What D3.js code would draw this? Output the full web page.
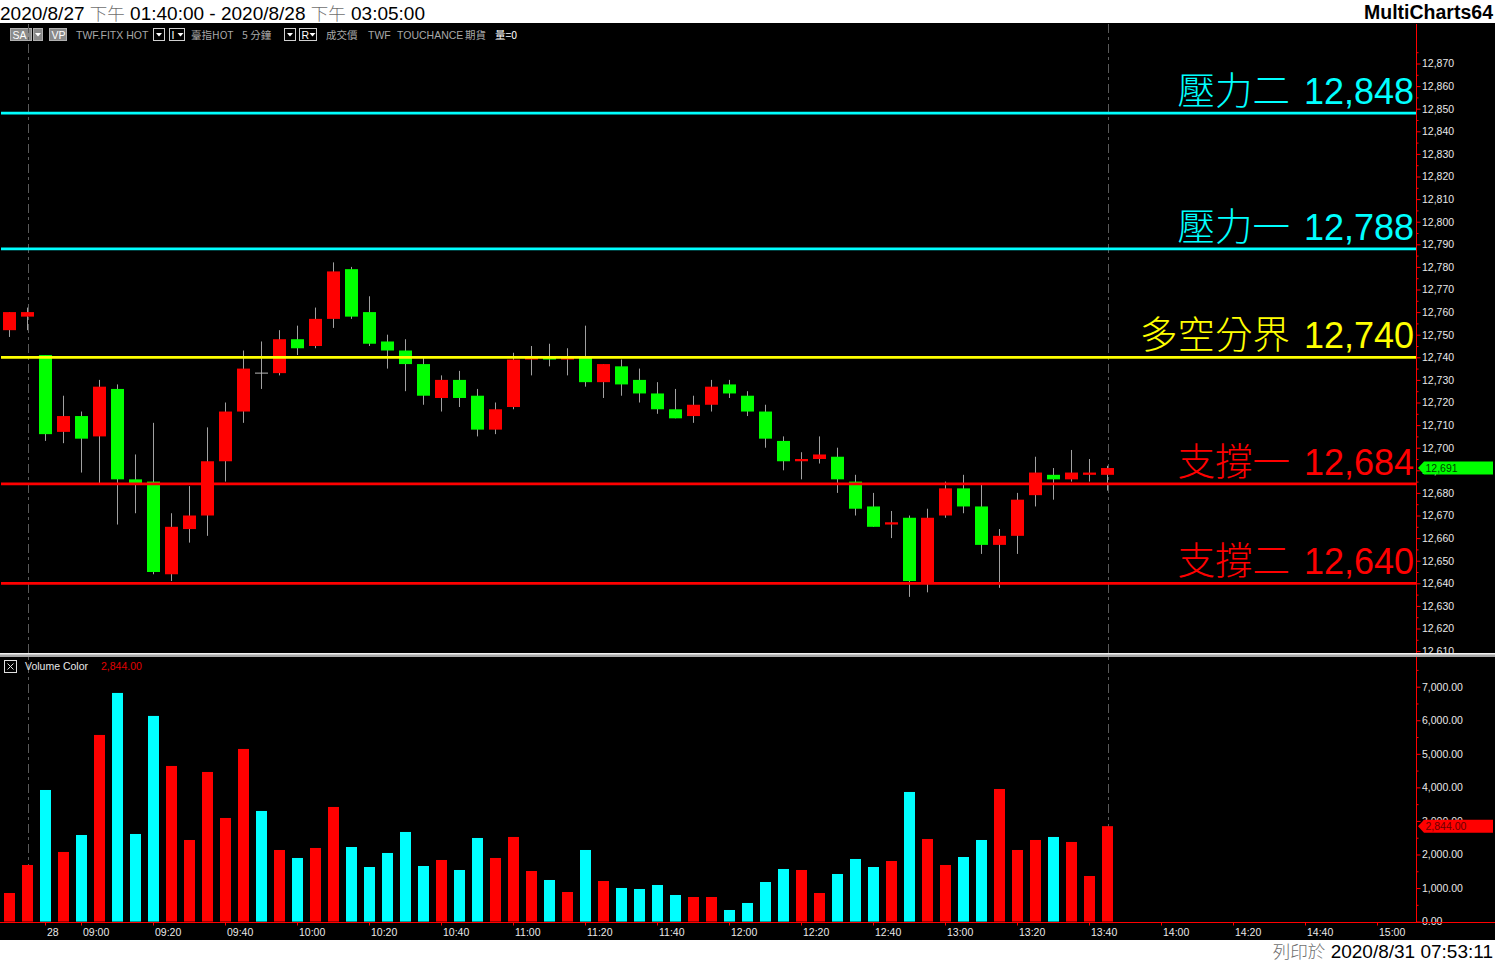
<!DOCTYPE html>
<html><head><meta charset="utf-8">
<script src="https://cdn.jsdelivr.net/npm/d3@7"></script>
<style>
html,body{margin:0;padding:0;background:#fff;overflow:hidden;}
svg{display:block;}
</style></head><body>
<svg id="chart" width="1495" height="962"></svg>
<script>
// ---------------- DATA ----------------
const prevDayTimes = ["13:40", "13:45"];          // 2020/8/27 last bars
const sessionFirst = "08:50", sessionLast = "15:05"; // 2020/8/28 slots shown

const open  = [12752,12758,12741,12707,12714,12705,12726,12686,12685,12644,12664,12670,12694,12716,12733,12733,12748,12745,12757,12779,12760,
               12747,12743,12737,12722,12730,12723,12708,12718,12739,12740,12739,12740,12729,12736,12730,12724,12717,12714,12719,12728,
               12723,12716,12703,12694,12695,12696,12685,12674,12666,12669,12640,12670,12682,12674,12657,12661,12679,12688,12686,12688,12688];
const high  = [12760,12762,12741,12723,12716,12730,12728,12697,12711,12671,12683,12709,12720,12743,12747,12752,12754,12762,12782,12780,12767,
               12750,12748,12740,12732,12734,12726,12720,12742,12745,12746,12744,12754,12737,12739,12735,12729,12726,12723,12730,12730,
               12725,12719,12705,12698,12705,12700,12688,12680,12672,12670,12673,12685,12688,12684,12664,12680,12696,12691,12699,12695,12692];
const low   = [12749,12752,12703,12702,12689,12684,12666,12671,12644,12641,12658,12661,12685,12711,12726,12732,12741,12744,12753,12757,12745,
               12735,12725,12719,12716,12718,12705,12706,12717,12732,12736,12732,12727,12722,12723,12720,12715,12713,12711,12716,12722,
               12714,12700,12690,12686,12693,12680,12670,12665,12660,12634,12636,12669,12671,12653,12638,12653,12674,12677,12685,12685,12681];
const close = [12760,12760,12706,12714,12704,12727,12686,12684,12645,12665,12670,12694,12716,12735,12733,12748,12744,12757,12778,12758,12746,
               12743,12737,12723,12730,12722,12708,12717,12739,12740,12739,12740,12729,12737,12728,12724,12717,12713,12719,12727,12724,
               12716,12704,12694,12695,12697,12686,12673,12665,12667,12641,12669,12682,12674,12657,12661,12677,12689,12686,12689,12689,12691];
const volume = [852,1687,3922,2075,2581,5562,6814,2611,6129,4638,2432,4459,3088,5145,3297,2134,1896,2194,3416,2223,1627,
                2045,2671,1657,1836,1538,2492,1896,2522,1508,1240,882,2134,1210,1002,972,1091,793,733,733,346,
                555,1180,1568,1538,852,1419,1866,1627,1806,3863,2462,1687,1925,2432,3952,2134,2432,2522,2373,1359,2844];

const priceTickValues = [12610,12620,12630,12640,12650,12660,12670,12680,12690,12700,12710,12720,12730,
                         12740,12750,12760,12770,12780,12790,12800,12810,12820,12830,12840,12850,12860,12870];
const volumeTickValues = [0,1000,2000,3000,4000,5000,6000,7000];
const timeTickLabels = ["28","09:00","09:20","09:40","10:00","10:20","10:40","11:00","11:20","11:40",
                        "12:00","12:20","12:40","13:00","13:20","13:40","14:00","14:20","14:40","15:00"];
const timeTickTimes  = ["08:50","09:00","09:20","09:40","10:00","10:20","10:40","11:00","11:20","11:40",
                        "12:00","12:20","12:40","13:00","13:20","13:40","14:00","14:20","14:40","15:00"];
const levelNames  = ["壓力二","壓力一","多空分界","支撐一","支撐二"];
const levelValues = [12848,12788,12740,12684,12640];
const sessionBreakBars = [1, 61];

const headerParts = [["2020/8/27 ","d"],["下午","c"],[" 01:40:00 - 2020/8/28 ","d"],["下午","c"],[" 03:05:00","d"]];
const printedParts = [["列印於","c"],[" 2020/8/31 07:53:11","d"]];

// ---------------- STYLE ----------------
const RED = "#ff0000", GREEN = "#00ff00", CYAN = "#00ffff", YELLOW = "#ffff00";
const levelColors = [CYAN, CYAN, YELLOW, RED, RED];
const LATIN = "'Liberation Sans', Arial, sans-serif";
const CJK = "'Noto Sans CJK TC', 'Noto Sans CJK SC', sans-serif";

const svg = d3.select("#chart");
const W = 1495, H = 962;
const plotRight = 1416;
const priceTop = 23, priceBottom = 653;
const volTop = 657, volBottom = 922;

// ---------------- SCALES ----------------
const fmtHM = d3.timeFormat("%H:%M");
const sessionSlots = d3.timeMinute.every(5)
  .range(new Date(2020,7,28,8,50), new Date(2020,7,28,15,10))
  .map(d => "28 " + fmtHM(d));
const slots = prevDayTimes.map(t => "27 " + t).concat(sessionSlots);

const x = d3.scaleBand().domain(slots).range([0.5, 0.5 + 18 * slots.length]).padding(0);
const cx = i => x(slots[i]) + x.bandwidth() / 2;

const yP = d3.scaleLinear().domain([12640, 12740]).range([583.3, 357.3]);
const yV = d3.scaleLinear().domain([0, 7000]).range([921.6, 686.7]);

// ---------------- BACKGROUND ----------------
svg.append("rect").attr("x",0).attr("y",0).attr("width",W).attr("height",H).attr("fill","#fff");
svg.append("rect").attr("x",0).attr("y",priceTop).attr("width",W).attr("height",940-priceTop).attr("fill","#000");

// header text
const hdr = svg.append("text").attr("x",0).attr("y",19.5).attr("font-size",19).attr("font-family",LATIN);
headerParts.forEach(p => hdr.append("tspan").text(p[0])
  .attr("font-family", p[1]==="c" ? CJK : LATIN)
  .attr("font-size", p[1]==="c" ? 17.5 : 19)
  .attr("font-weight", p[1]==="c" ? 300 : 400)
  .attr("fill", p[1]==="c" ? "#707070" : "#000"));
svg.append("text").attr("x",1493).attr("y",19).attr("text-anchor","end")
  .attr("font-family",LATIN).attr("font-weight","bold").attr("font-size",19.5).attr("fill","#000")
  .text("MultiCharts64");

// footer text
const ftr = svg.append("text").attr("x",1493).attr("y",957.5).attr("text-anchor","end").attr("font-size",19);
printedParts.forEach(p => ftr.append("tspan").text(p[0])
  .attr("font-family", p[1]==="c" ? CJK : LATIN)
  .attr("font-size", p[1]==="c" ? 17.5 : 19)
  .attr("font-weight", p[1]==="c" ? 300 : 400)
  .attr("fill", p[1]==="c" ? "#707070" : "#000"));

// toolbar
const tb = svg.append("g").attr("font-family",LATIN).attr("font-size",10.5);
function grayBox(x0, w, label) {
  tb.append("rect").attr("x",x0).attr("y",28.5).attr("width",w).attr("height",12).attr("fill","#8a8a8a").attr("stroke","#b0b0b0").attr("stroke-width",1);
  if (label) tb.append("text").attr("x",x0+2).attr("y",39).attr("fill","#fff").text(label);
}
function tri(cxp, color) {
  tb.append("path").attr("d",`M${cxp-3},33 L${cxp+3},33 L${cxp},36.5 Z`).attr("fill",color);
}
function ddBox(x0, w, label) {
  tb.append("rect").attr("x",x0+0.5).attr("y",28.5).attr("width",w).attr("height",12).attr("fill","#000").attr("stroke","#d0d0d0").attr("stroke-width",1);
  if (label) { tb.append("text").attr("x",x0+2.5).attr("y",39).attr("fill","#fff").text(label); tri(x0+w-3.5, "#fff"); }
  else tri(x0+w/2+0.5, "#fff");
}
grayBox(10.5, 21, "SA");
grayBox(33.5, 9, null); tri(38, "#fff");
grayBox(49.5, 17, "VP");
function tbText(x0, s, col, font) {
  tb.append("text").attr("x",x0).attr("y",39).attr("fill",col||"#a8a8a8")
    .attr("font-family", font||LATIN).text(s);
}
tbText(76, "TWF.FITX HOT");
ddBox(153, 11, null);
ddBox(169, 15, "I");
tbText(191, "臺指HOT", null, CJK);
tbText(242, "5 分鐘", null, CJK);
ddBox(284, 11, null);
ddBox(299, 17, "R");
tbText(326, "成交價", null, CJK);
tbText(368, "TWF");
tbText(397, "TOUCHANCE");
tbText(465, "期貨", null, CJK);
tbText(495, "量=0", "#fff", CJK);

// ---------------- SESSION BREAK DASHED LINES ----------------
svg.append("g").selectAll("line").data(sessionBreakBars).join("line")
  .attr("x1", d => Math.round(cx(d)) + 0.5).attr("x2", d => Math.round(cx(d)) + 0.5)
  .attr("y1", priceTop + 1).attr("y2", volBottom)
  .attr("stroke", "#5a5a5a").attr("stroke-width", 1).attr("stroke-dasharray", "9,4,3,4");

// ---------------- CANDLES ----------------
const candles = open.map((o, i) => ({i, o, h: high[i], l: low[i], c: close[i], v: volume[i]}));
const cg = svg.append("g");
cg.selectAll("line.wick").data(candles).join("line").attr("class","wick")
  .attr("x1", d => cx(d.i)).attr("x2", d => cx(d.i))
  .attr("y1", d => yP(d.h)).attr("y2", d => yP(d.l))
  .attr("stroke", "#a0a0a0").attr("stroke-width", 1);
cg.selectAll("rect.body").data(candles.filter(d => d.o !== d.c)).join("rect").attr("class","body")
  .attr("x", d => cx(d.i) - 6.5).attr("width", 13)
  .attr("y", d => yP(Math.max(d.o, d.c)))
  .attr("height", d => Math.max(1.5, Math.abs(yP(d.o) - yP(d.c))))
  .attr("fill", d => d.c > d.o ? RED : GREEN);
cg.selectAll("line.doji").data(candles.filter(d => d.o === d.c)).join("line").attr("class","doji")
  .attr("x1", d => cx(d.i) - 6.5).attr("x2", d => cx(d.i) + 6.5)
  .attr("y1", d => yP(d.o)).attr("y2", d => yP(d.o))
  .attr("stroke", "#b8b8b8").attr("stroke-width", 1);

// ---------------- LEVEL LINES + LABELS ----------------
const lv = levelValues.map((v, k) => ({v, name: levelNames[k], color: levelColors[k]}));
svg.append("g").selectAll("line").data(lv).join("line")
  .attr("x1", 1).attr("x2", plotRight)
  .attr("y1", d => yP(d.v)).attr("y2", d => yP(d.v))
  .attr("stroke", d => d.color).attr("stroke-width", 2.7);
const lbl = svg.append("g").selectAll("text").data(lv).join("text")
  .attr("x", 1414).attr("y", d => yP(d.v) - 9).attr("text-anchor", "end")
  .attr("fill", d => d.color).attr("font-size", 36);
lbl.append("tspan").attr("font-family", CJK).attr("font-weight", 200).attr("font-size", 37.5)
  .text(d => d.name);
lbl.append("tspan").attr("font-family", LATIN).attr("dx", 14).text(d => d3.format(",")(d.v));

// ---------------- VOLUME ----------------
svg.append("g").selectAll("rect").data(candles).join("rect")
  .attr("x", d => cx(d.i) - 5.5).attr("width", 11)
  .attr("y", d => yV(d.v)).attr("height", d => yV(0) - yV(d.v))
  .attr("fill", d => d.c > d.o ? RED : CYAN);

// volume header
const vh = svg.append("g").attr("font-family", LATIN).attr("font-size", 10.5);
vh.append("rect").attr("x",4.5).attr("y",660.5).attr("width",12).attr("height",12).attr("fill","none").attr("stroke","#e0e0e0");
vh.append("path").attr("d","M7.5,663.5 L13.5,669.5 M13.5,663.5 L7.5,669.5").attr("stroke","#e0e0e0");
vh.append("text").attr("x",25).attr("y",670).attr("fill","#e8e8e8").text("Volume Color");
vh.append("text").attr("x",101).attr("y",670).attr("fill","#e00000").text(d3.format(",.2f")(volume[volume.length-1]));

// ---------------- AXES ----------------
function styleAxis(g) {
  g.selectAll(".domain").remove();
  g.selectAll(".tick line").attr("stroke", RED);
  g.selectAll(".tick text").attr("fill", "#e8e8e8").attr("font-family", LATIN).attr("font-size", 10.5);
}
// price axis
svg.append("g").attr("transform", `translate(${plotRight},0)`)
  .call(d3.axisRight(yP).tickValues(priceTickValues.map(v => v + 5)).tickSize(2.5).tickFormat(""))
  .call(styleAxis);
svg.append("g").attr("transform", `translate(${plotRight},0)`)
  .call(d3.axisRight(yP).tickValues(priceTickValues).tickSize(4.5).tickPadding(1.5).tickFormat(d3.format(",")))
  .call(styleAxis);
// volume axis
svg.append("g").attr("transform", `translate(${plotRight},0)`)
  .call(d3.axisRight(yV).tickValues(volumeTickValues.map(v => v + 500)).tickSize(2.5).tickFormat(""))
  .call(styleAxis);
svg.append("g").attr("transform", `translate(${plotRight},0)`)
  .call(d3.axisRight(yV).tickValues(volumeTickValues).tickSize(4.5).tickPadding(1.5).tickFormat(d3.format(",.2f")))
  .call(styleAxis);
// time axis
const tickMap = new Map(timeTickTimes.map((t, k) => ["28 " + t, timeTickLabels[k]]));
const xg = svg.append("g").attr("transform", `translate(0,${volBottom})`)
  .call(d3.axisBottom(x).tickValues(timeTickTimes.map(t => "28 " + t)).tickSize(3.5).tickPadding(2)
    .tickFormat(d => tickMap.get(d)))
  .call(styleAxis);
xg.selectAll(".tick text").attr("text-anchor", "start").attr("x", 1.5).attr("dy", "0.85em");

// axis lines
svg.append("line").attr("x1", plotRight + 0.5).attr("x2", plotRight + 0.5).attr("y1", priceTop + 1).attr("y2", volBottom)
  .attr("stroke", RED).attr("stroke-width", 1);
svg.append("line").attr("x1", 0).attr("x2", W).attr("y1", volBottom + 0.5).attr("y2", volBottom + 0.5)
  .attr("stroke", RED).attr("stroke-width", 1);

// panel separator
svg.append("rect").attr("x",0).attr("y",653).attr("width",W).attr("height",4).attr("fill","#a8a8a8");
svg.append("rect").attr("x",0).attr("y",653).attr("width",W).attr("height",1.5).attr("fill","#f0f0f0");

// ---------------- LAST VALUE MARKERS ----------------
function marker(yc, bg, fg, label) {
  const g = svg.append("g");
  g.append("path").attr("d", `M1418,${yc} L1424,${yc-6.5} L1493,${yc-6.5} L1493,${yc+6.5} L1424,${yc+6.5} Z`).attr("fill", bg);
  g.append("text").attr("x", 1425.5).attr("y", yc).attr("dy", "0.36em").attr("fill", fg)
    .attr("font-family", LATIN).attr("font-size", 10.5).text(label);
}
marker(yP(close[close.length-1]), GREEN, "#004400", d3.format(",")(close[close.length-1]));
marker(yV(volume[volume.length-1]), RED, "#6a0000", d3.format(",.2f")(volume[volume.length-1]));
</script>
</body></html>
